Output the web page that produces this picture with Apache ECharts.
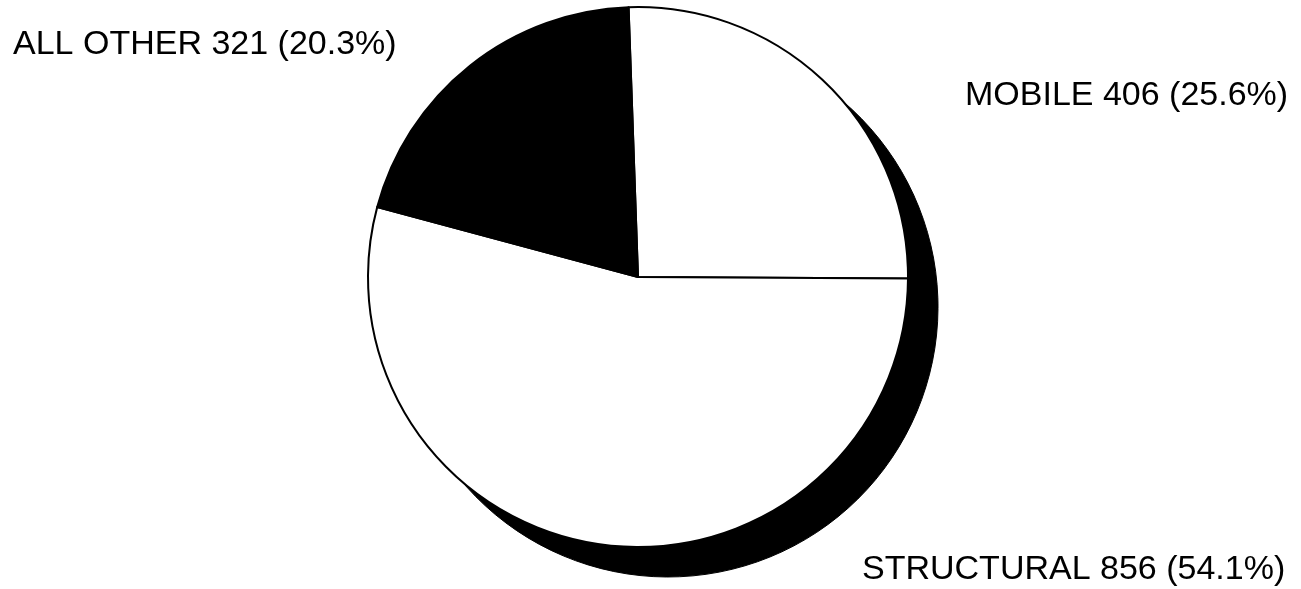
<!DOCTYPE html>
<html>
<head>
<meta charset="utf-8">
<script src="https://cdn.jsdelivr.net/npm/echarts@6/dist/echarts.min.js"></script>
<style>
html,body{margin:0;padding:0;background:#fff;}
#chart{width:1301px;height:589px;}
</style>
</head>
<body>
<div id="chart"></div>
<script>
const categories = ['MOBILE', 'STRUCTURAL', 'ALL OTHER'];
const values = [406, 856, 321];
const sliceColors = ['#ffffff', '#ffffff', '#000000'];

const labelPos = [
  {x: 965, y: 96},
  {x: 862, y: 570},
  {x: 13, y: 45}
];

const chart = echarts.init(document.getElementById('chart'));
chart.setOption({
  backgroundColor: '#ffffff',
  animation: false,
  series: [
    {
      type: 'pie',
      silent: true,
      z: 1,
      center: [668, 307],
      radius: 270,
      startAngle: 92,
      clockwise: true,
      label: {show: false},
      labelLine: {show: false},
      itemStyle: {color: '#000', borderColor: '#000', borderWidth: 1},
      data: categories.map((c, i) => ({name: c, value: values[i]}))
    },
    {
      type: 'pie',
      silent: true,
      z: 2,
      center: [638, 277],
      radius: 270,
      startAngle: 92,
      clockwise: true,
      percentPrecision: 1,
      itemStyle: {borderColor: '#000', borderWidth: 2},
      label: {
        show: true,
        formatter: '{b} {c} ({d}%)',
        fontFamily: 'Liberation Sans, Arial, sans-serif',
        fontSize: 34,
        color: '#000'
      },
      labelLine: {show: false},
      labelLayout: function (p) {
        const lp = labelPos[p.dataIndex];
        return {x: lp.x, y: lp.y, align: 'left', verticalAlign: 'middle'};
      },
      data: categories.map((c, i) => ({name: c, value: values[i], itemStyle: {color: sliceColors[i]}}))
    }
  ]
});
</script>
</body>
</html>
